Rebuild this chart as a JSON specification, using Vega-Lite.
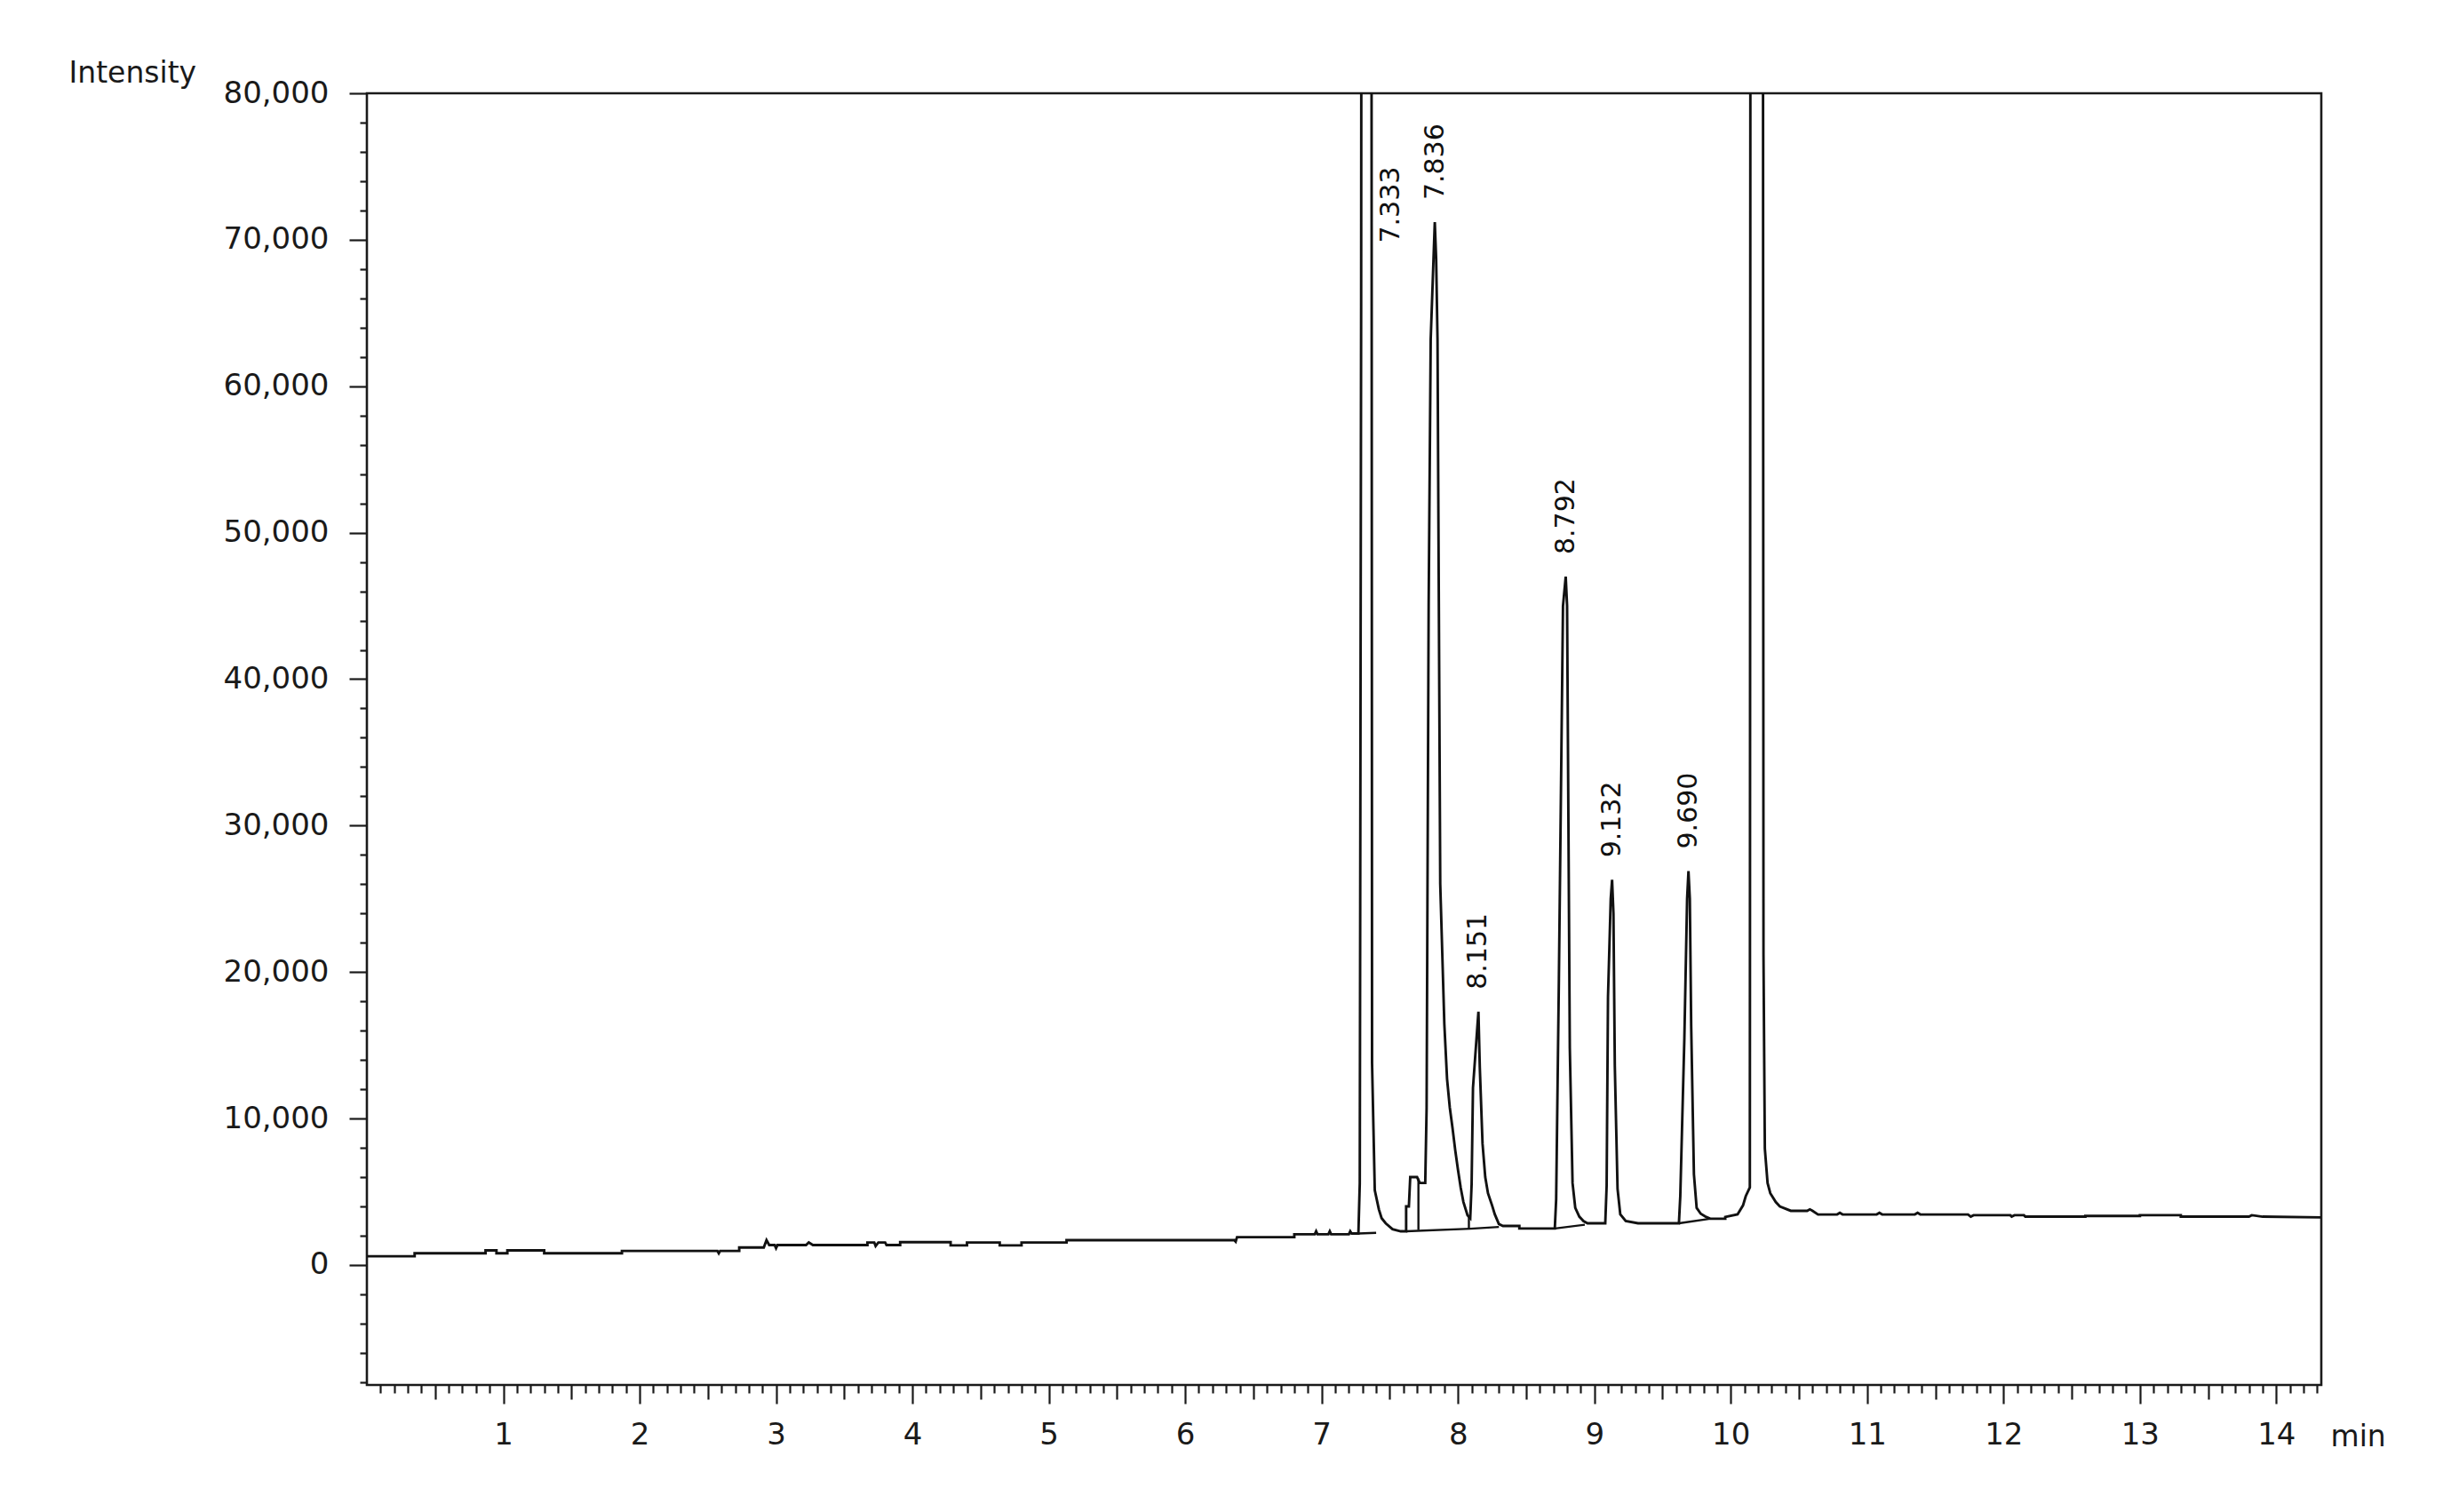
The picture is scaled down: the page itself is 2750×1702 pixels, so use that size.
{
  "$schema": "https://vega.github.io/schema/vega-lite/v6.json",
  "width": 2200,
  "height": 1454,
  "autosize": {"type": "none"},
  "padding": {"left": 413, "top": 105, "right": 137, "bottom": 143},
  "background": "white",
  "config": {
    "view": {"stroke": "#1a1a1a", "strokeWidth": 2.6},
    "font": "DejaVu Sans",
    "axis": {"domain": false, "grid": false, "tickColor": "#1a1a1a", "tickWidth": 2.2, "labelColor": "#1a1a1a", "titleColor": "#1a1a1a", "labelFont": "DejaVu Sans", "titleFont": "DejaVu Sans", "titleFontWeight": "normal"}
  },
  "datasets": {
    "trace": [
      {"t": 0.00, "v": 600}, {"t": 0.35, "v": 600}, {"t": 0.35, "v": 800}, {"t": 0.87, "v": 800}, {"t": 0.87, "v": 1000}, {"t": 0.95, "v": 1000}, {"t": 0.95, "v": 800}, {"t": 1.03, "v": 800}, {"t": 1.03, "v": 1000}, {"t": 1.30, "v": 1000}, {"t": 1.30, "v": 800}, {"t": 1.87, "v": 800}, {"t": 1.87, "v": 960}, {"t": 2.57, "v": 960}, {"t": 2.58, "v": 800}, {"t": 2.59, "v": 960}, {"t": 2.73, "v": 960}, {"t": 2.73, "v": 1200}, {"t": 2.91, "v": 1200}, {"t": 2.93, "v": 1700}, {"t": 2.95, "v": 1360}, {"t": 2.99, "v": 1360}, {"t": 3.00, "v": 1150}, {"t": 3.01, "v": 1360}, {"t": 3.22, "v": 1360}, {"t": 3.24, "v": 1540}, {"t": 3.27, "v": 1360}, {"t": 3.67, "v": 1360}, {"t": 3.67, "v": 1540}, {"t": 3.72, "v": 1540}, {"t": 3.73, "v": 1300}, {"t": 3.75, "v": 1540}, {"t": 3.80, "v": 1540}, {"t": 3.81, "v": 1360}, {"t": 3.91, "v": 1360}, {"t": 3.91, "v": 1560}, {"t": 4.28, "v": 1560}, {"t": 4.28, "v": 1340}, {"t": 4.40, "v": 1340}, {"t": 4.40, "v": 1540}, {"t": 4.64, "v": 1540}, {"t": 4.64, "v": 1340}, {"t": 4.80, "v": 1340}, {"t": 4.80, "v": 1540}, {"t": 5.13, "v": 1540}, {"t": 5.13, "v": 1700}, {"t": 6.36, "v": 1700}, {"t": 6.37, "v": 1600}, {"t": 6.38, "v": 1900}, {"t": 6.80, "v": 1900}, {"t": 6.80, "v": 2100}, {"t": 6.95, "v": 2100}, {"t": 6.96, "v": 2300}, {"t": 6.97, "v": 2100}, {"t": 7.05, "v": 2100}, {"t": 7.06, "v": 2300}, {"t": 7.07, "v": 2100}, {"t": 7.20, "v": 2100}, {"t": 7.21, "v": 2300}, {"t": 7.22, "v": 2150}, {"t": 7.27, "v": 2150},
      {"t": 7.28, "v": 5600}, {"t": 7.29, "v": 65400}, {"t": 7.30, "v": 200000}, {"t": 7.36, "v": 200000}, {"t": 7.37, "v": 13800}, {"t": 7.39, "v": 5100}, {"t": 7.42, "v": 3800}, {"t": 7.44, "v": 3200}, {"t": 7.47, "v": 2850}, {"t": 7.52, "v": 2450}, {"t": 7.58, "v": 2300}, {"t": 7.62, "v": 2300}, {"t": 7.62, "v": 4000}, {"t": 7.64, "v": 4000}, {"t": 7.65, "v": 6000}, {"t": 7.70, "v": 6000}, {"t": 7.72, "v": 5600}, {"t": 7.76, "v": 5600}, {"t": 7.77, "v": 10700}, {"t": 7.785, "v": 45000}, {"t": 7.80, "v": 63200}, {"t": 7.83, "v": 71200}, {"t": 7.84, "v": 68700}, {"t": 7.85, "v": 63200}, {"t": 7.87, "v": 26000}, {"t": 7.90, "v": 16450}, {"t": 7.92, "v": 12700}, {"t": 7.94, "v": 10750}, {"t": 7.96, "v": 9350}, {"t": 7.98, "v": 7830}, {"t": 8.00, "v": 6500}, {"t": 8.02, "v": 5280}, {"t": 8.04, "v": 4300}, {"t": 8.07, "v": 3400}, {"t": 8.09, "v": 3200},
      {"t": 8.10, "v": 5500}, {"t": 8.11, "v": 12100}, {"t": 8.14, "v": 16000}, {"t": 8.15, "v": 17300}, {"t": 8.16, "v": 13500}, {"t": 8.18, "v": 8300}, {"t": 8.20, "v": 6000}, {"t": 8.22, "v": 4900}, {"t": 8.25, "v": 4070}, {"t": 8.27, "v": 3460}, {"t": 8.30, "v": 2800}, {"t": 8.33, "v": 2670}, {"t": 8.45, "v": 2670}, {"t": 8.45, "v": 2490}, {"t": 8.71, "v": 2490},
      {"t": 8.72, "v": 4500}, {"t": 8.74, "v": 19550}, {"t": 8.77, "v": 45000}, {"t": 8.79, "v": 47000}, {"t": 8.80, "v": 45000}, {"t": 8.82, "v": 14800}, {"t": 8.84, "v": 5600}, {"t": 8.86, "v": 3900}, {"t": 8.89, "v": 3300}, {"t": 8.92, "v": 3000}, {"t": 8.95, "v": 2850}, {"t": 9.08, "v": 2850},
      {"t": 9.09, "v": 5400}, {"t": 9.10, "v": 18300}, {"t": 9.12, "v": 25000}, {"t": 9.13, "v": 26300}, {"t": 9.14, "v": 24000}, {"t": 9.15, "v": 13600}, {"t": 9.17, "v": 5200}, {"t": 9.19, "v": 3460}, {"t": 9.23, "v": 3000}, {"t": 9.32, "v": 2850}, {"t": 9.62, "v": 2850},
      {"t": 9.63, "v": 4700}, {"t": 9.66, "v": 15500}, {"t": 9.68, "v": 25000}, {"t": 9.69, "v": 26900}, {"t": 9.70, "v": 25000}, {"t": 9.71, "v": 16300}, {"t": 9.73, "v": 6200}, {"t": 9.75, "v": 3900}, {"t": 9.78, "v": 3500}, {"t": 9.82, "v": 3280}, {"t": 9.85, "v": 3160}, {"t": 9.96, "v": 3160}, {"t": 9.96, "v": 3280}, {"t": 10.05, "v": 3460}, {"t": 10.09, "v": 4070}, {"t": 10.11, "v": 4700}, {"t": 10.14, "v": 5300},
      {"t": 10.15, "v": 200000}, {"t": 10.23, "v": 200000}, {"t": 10.24, "v": 21200}, {"t": 10.25, "v": 7950}, {"t": 10.27, "v": 5600}, {"t": 10.29, "v": 4900}, {"t": 10.33, "v": 4300}, {"t": 10.36, "v": 4000}, {"t": 10.44, "v": 3700}, {"t": 10.56, "v": 3700}, {"t": 10.58, "v": 3800}, {"t": 10.60, "v": 3700}, {"t": 10.64, "v": 3450},
      {"t": 10.78, "v": 3450}, {"t": 10.80, "v": 3560}, {"t": 10.82, "v": 3450}, {"t": 11.07, "v": 3450}, {"t": 11.09, "v": 3560}, {"t": 11.11, "v": 3450}, {"t": 11.35, "v": 3450}, {"t": 11.37, "v": 3560}, {"t": 11.39, "v": 3450}, {"t": 11.74, "v": 3450}, {"t": 11.76, "v": 3300}, {"t": 11.78, "v": 3400}, {"t": 12.05, "v": 3400}, {"t": 12.06, "v": 3300}, {"t": 12.08, "v": 3400}, {"t": 12.15, "v": 3400}, {"t": 12.16, "v": 3300}, {"t": 12.60, "v": 3300}, {"t": 12.60, "v": 3350}, {"t": 13.00, "v": 3350}, {"t": 13.00, "v": 3400}, {"t": 13.30, "v": 3400}, {"t": 13.30, "v": 3300}, {"t": 13.80, "v": 3300}, {"t": 13.82, "v": 3400}, {"t": 13.90, "v": 3300}, {"t": 14.33, "v": 3250}
    ],
    "baselines": [
      {"seg": "a", "t": 7.27, "v": 2150}, {"seg": "a", "t": 7.40, "v": 2200},
      {"seg": "b", "t": 7.62, "v": 2300}, {"seg": "b", "t": 8.09, "v": 2480},
      {"seg": "c", "t": 8.09, "v": 2480}, {"seg": "c", "t": 8.30, "v": 2600},
      {"seg": "d", "t": 7.71, "v": 5900}, {"seg": "d", "t": 7.71, "v": 2390},
      {"seg": "e", "t": 8.08, "v": 3300}, {"seg": "e", "t": 8.08, "v": 2480},
      {"seg": "f", "t": 8.71, "v": 2490}, {"seg": "f", "t": 8.93, "v": 2750},
      {"seg": "g", "t": 9.62, "v": 2850}, {"seg": "g", "t": 9.85, "v": 3160}
    ],
    "labels": [
      {"rt": "7.333", "t": 7.51, "v": 68260},
      {"rt": "7.836", "t": 7.836, "v": 71200},
      {"rt": "8.151", "t": 8.151, "v": 17300},
      {"rt": "8.792", "t": 8.792, "v": 47000},
      {"rt": "9.132", "t": 9.132, "v": 26300},
      {"rt": "9.690", "t": 9.690, "v": 26900}
    ]
  },
  "layer": [
    {
      "data": {"name": "trace"},
      "mark": {"type": "line", "color": "#111", "strokeWidth": 2.9, "clip": true},
      "encoding": {
        "x": {"field": "t", "type": "quantitative", "scale": {"domain": [0, 14.33], "nice": false, "zero": false},
          "axis": {"orient": "bottom", "values": [1,2,3,4,5,6,7,8,9,10,11,12,13,14], "tickSize": 21, "labelFontSize": 34, "labelPadding": 18, "title": "min", "titleFontSize": 33, "titleAlign": "left", "titleBaseline": "alphabetic", "titleX": 2210, "titleY": 68, "titleAnchor": "start"}},
        "y": {"field": "v", "type": "quantitative", "scale": {"domain": [-8190, 80000], "nice": false, "zero": false},
          "axis": {"orient": "left", "values": [0,10000,20000,30000,40000,50000,60000,70000,80000], "format": ",d", "tickSize": 20, "labelFontSize": 34, "labelPadding": 23, "title": "Intensity", "titleFontSize": 33, "titleAngle": 0, "titleAlign": "left", "titleBaseline": "alphabetic", "titleX": -336, "titleY": -13, "titleAnchor": "start"}},
        "order": {"value": null}
      }
    },
    {
      "data": {"name": "baselines"},
      "mark": {"type": "line", "color": "#111", "strokeWidth": 2.4, "clip": true},
      "encoding": {
        "x": {"field": "t", "type": "quantitative", "scale": {"domain": [0, 14.33], "nice": false, "zero": false},
          "axis": {"orient": "bottom", "values": [0.5,1.5,2.5,3.5,4.5,5.5,6.5,7.5,8.5,9.5,10.5,11.5,12.5,13.5], "tickSize": 16, "labels": false, "title": null}},
        "y": {"field": "v", "type": "quantitative", "scale": {"domain": [-8190, 80000], "nice": false, "zero": false},
          "axis": {"orient": "left", "values": [-8000,-6000,-4000,-2000,2000,4000,6000,8000,12000,14000,16000,18000,22000,24000,26000,28000,32000,34000,36000,38000,42000,44000,46000,48000,52000,54000,56000,58000,62000,64000,66000,68000,72000,74000,76000,78000], "tickSize": 8, "labels": false, "title": null}},
        "detail": {"field": "seg", "type": "nominal"},
        "order": {"value": null}
      }
    },
    {
      "data": {"name": "labels"},
      "mark": {"type": "text", "angle": 270, "align": "left", "baseline": "middle", "dx": 25, "fontSize": 30, "font": "DejaVu Sans", "color": "#111"},
      "encoding": {
        "x": {"field": "t", "type": "quantitative", "scale": {"domain": [0, 14.33], "nice": false, "zero": false},
          "axis": {"orient": "bottom", "values": [0.1,0.2,0.3,0.4,0.6,0.7,0.8,0.9,1.1,1.2,1.3,1.4,1.6,1.7,1.8,1.9,2.1,2.2,2.3,2.4,2.6,2.7,2.8,2.9,3.1,3.2,3.3,3.4,3.6,3.7,3.8,3.9,4.1,4.2,4.3,4.4,4.6,4.7,4.8,4.9,5.1,5.2,5.3,5.4,5.6,5.7,5.8,5.9,6.1,6.2,6.3,6.4,6.6,6.7,6.8,6.9,7.1,7.2,7.3,7.4,7.6,7.7,7.8,7.9,8.1,8.2,8.3,8.4,8.6,8.7,8.8,8.9,9.1,9.2,9.3,9.4,9.6,9.7,9.8,9.9,10.1,10.2,10.3,10.4,10.6,10.7,10.8,10.9,11.1,11.2,11.3,11.4,11.6,11.7,11.8,11.9,12.1,12.2,12.3,12.4,12.6,12.7,12.8,12.9,13.1,13.2,13.3,13.4,13.6,13.7,13.8,13.9,14.1,14.2,14.3], "tickSize": 9, "labels": false, "title": null}},
        "y": {"field": "v", "type": "quantitative", "scale": {"domain": [-8190, 80000], "nice": false, "zero": false}, "axis": null},
        "text": {"field": "rt", "type": "nominal"}
      }
    }
  ],
  "resolve": {"axis": {"x": "independent", "y": "independent"}}
}
